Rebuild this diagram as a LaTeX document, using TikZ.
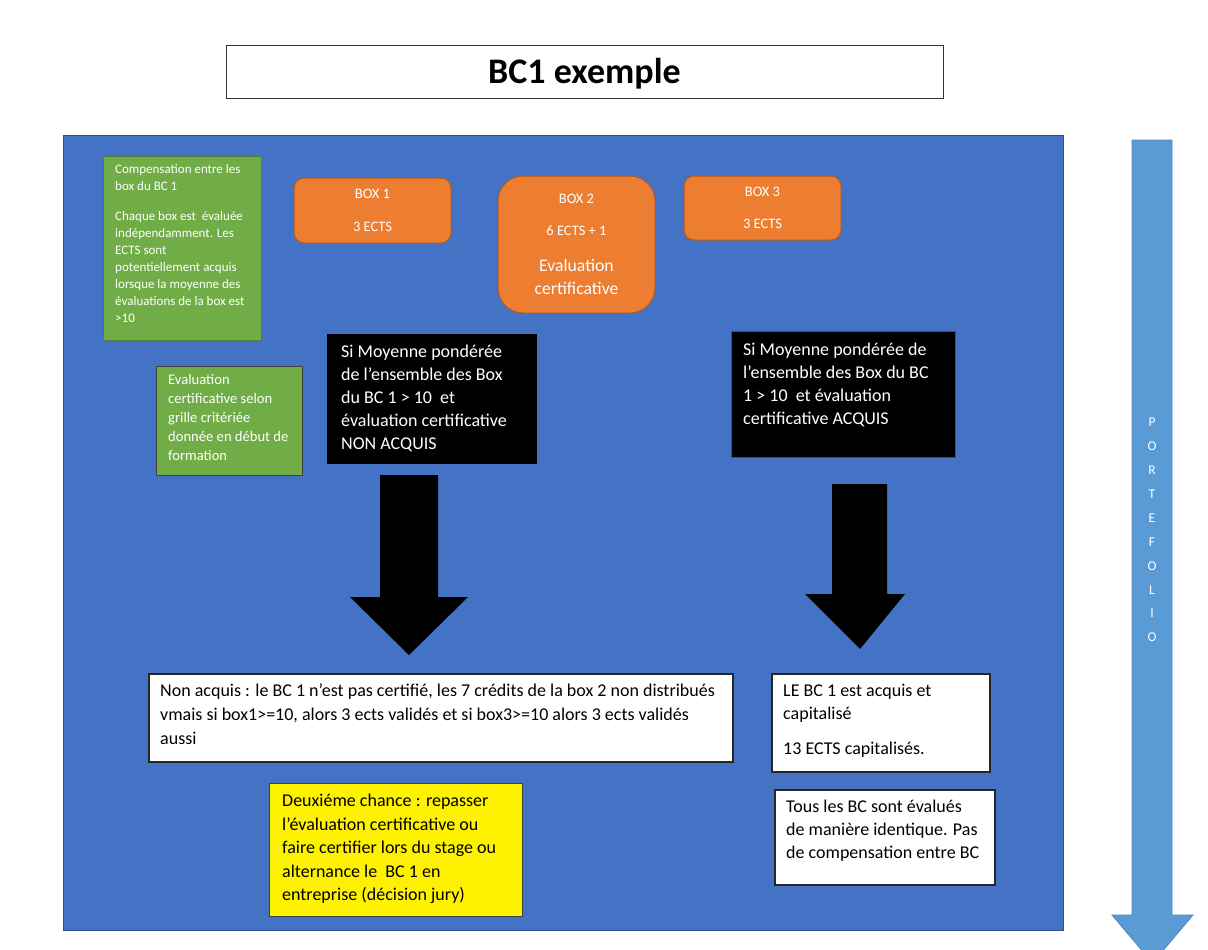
\documentclass[tikz,border=0pt]{standalone}
\usepackage{fontspec}
\setmainfont{Carlito}
\usetikzlibrary{positioning}
\usepackage{xcolor}

\definecolor{boardblue}{HTML}{4472C4}
\definecolor{boardedge}{HTML}{2F528F}
\definecolor{leafgreen}{HTML}{70AD47}
\definecolor{leafedge}{HTML}{507E32}
\definecolor{boxorange}{HTML}{ED7D31}
\definecolor{boxedge}{HTML}{AE5A21}
\definecolor{skyblue}{HTML}{5B9BD5}
\definecolor{skyedge}{HTML}{4A86C0}

\tikzset{
  frame/.style={draw, rectangle, anchor=north west, inner sep=0pt, outer sep=0pt, line width=1pt},
  ectsbox/.style={frame, fill=boxorange, draw=boxedge, text=white, align=center,
    font=\fontsize{14.5}{23}\selectfont},
  boxtxt/.style={anchor=north west, inner sep=0pt, align=left},
  bodyfont/.style={font=\fontsize{18}{23}\selectfont},
}

\begin{document}
\begin{tikzpicture}[x=1pt, y=-1pt]
    \useasboundingbox[fill=white] (0,0) rectangle (1208,950);

    % Define nodes
    \node[frame, draw=black!80, minimum width=717pt, minimum height=52pt] (title) at (226,46) {};
    \node[font=\bfseries\fontsize{36}{40}\selectfont, inner sep=0pt] (titletxt) at ([yshift=-2pt]title.center) {BC1 exemple};
    \node[frame, fill=boardblue, draw=boardedge, minimum width=1000pt, minimum height=795pt] (board) at (63,135) {};

    \node[frame, fill=leafgreen, draw=leafedge, minimum width=158pt, minimum height=184pt] (comp) at (103,156) {};
    \node[boxtxt, text=white, font=\fontsize{13}{17}\selectfont, below right=8.5pt and 12pt of comp.north west] (comptxt)
      {Compensation entre les\\ box du BC 1\\[13pt] Chaque box est\ \ évaluée\\ indépendamment. Les\\ ECTS sont\\
       potentiellement acquis\\ lorsque la moyenne des\\ évaluations de la box est\\ >10};

    \node[frame, fill=leafgreen, draw=black!75, minimum width=146pt, minimum height=109pt] (grille) at (156,366) {};
    \node[boxtxt, text=white, font=\fontsize{14.6}{19}\selectfont, below right=8.5pt and 12pt of grille.north west] (grilletxt)
      {Evaluation\\ certificative selon\\ grille critériée\\ donnée en début de\\ formation};

    \node[ectsbox, rounded corners=10pt, minimum width=157pt, minimum height=65pt] (box1) at (294,178) {BOX 1\\[9.5pt] 3 ECTS};
    \node[ectsbox, rounded corners=25pt, minimum width=157pt, minimum height=137pt] (box2) at (498,176)
      {BOX 2\\[8.5pt] 6 ECTS + 1\\[13pt] {\fontsize{17.7}{23}\selectfont Evaluation}\\ {\fontsize{17.7}{23}\selectfont certificative}};
    \node[ectsbox, rounded corners=10pt, minimum width=157pt, minimum height=64pt] (box3) at (684,176) {BOX 3\\[9.5pt] 3 ECTS};

    \node[frame, fill=black, draw=black, minimum width=209pt, minimum height=129pt] (nonacq) at (327,334) {};
    \node[boxtxt, text=white, bodyfont, below right=11pt and 14pt of nonacq.north west] (nonacqtxt)
      {Si Moyenne pondérée\\ de l’ensemble des Box\\ du BC 1 > 10\ \ et\\ évaluation certificative\\ NON ACQUIS};

    \node[frame, fill=black, draw=boardedge, minimum width=224pt, minimum height=126pt] (acq) at (731,331) {};
    \node[boxtxt, text=white, bodyfont, below right=12pt and 12pt of acq.north west] (acqtxt)
      {Si Moyenne pondérée de\\ l’ensemble des Box du BC\\ 1 > 10\ \ et évaluation\\ certificative ACQUIS};

    \node[frame, fill=white, draw=black!85, line width=1.3pt, minimum width=584pt, minimum height=88pt] (echec) at (149,674) {};
    \node[boxtxt, font=\fontsize{18}{24}\selectfont, below right=10pt and 11pt of echec.north west] (echectxt)
      {Non acquis : le BC 1 n’est pas certifié, les 7 crédits de la box 2 non distribués\\
       vmais si box1>=10, alors 3 ects validés et si box3>=10 alors 3 ects validés\\ aussi};

    \node[frame, fill=white, draw=black!85, line width=1.3pt, minimum width=218pt, minimum height=98pt] (capit) at (772,674) {};
    \node[boxtxt, bodyfont, below right=10pt and 11pt of capit.north west] (capittxt)
      {LE BC 1 est acquis et\\ capitalisé\\[12pt] 13 ECTS capitalisés.};

    \node[frame, fill=yellow, draw=black!75, minimum width=253pt, minimum height=133pt] (chance) at (269,783) {};
    \node[boxtxt, font=\fontsize{18}{23.5}\selectfont, below right=11pt and 13pt of chance.north west] (chancetxt)
      {Deuxiéme chance : repasser\\ l’évaluation certificative ou\\ faire certifier lors du stage ou\\
       alternance le\ \ BC 1 en\\ entreprise (décision jury)};

    \node[frame, fill=white, draw=black!85, line width=1.3pt, minimum width=220pt, minimum height=95pt] (regle) at (775,790) {};
    \node[boxtxt, bodyfont, below right=10pt and 11pt of regle.north west] (regletxt)
      {Tous les BC sont évalués\\ de manière identique. Pas\\ de compensation entre BC};

    % Block arrows
    \fill[black] (380,475) -- (438,475) -- (438,597) -- (468,597) -- (409,655)
      -- (350,597) -- (380,597) -- cycle;
    \fill[black] (832,484) -- (887,484) -- (887,594) -- (905,594) -- (860,649)
      -- (805,594) -- (832,594) -- cycle;

    % Portfolio
    \filldraw[fill=skyblue, draw=skyedge, line width=0.8pt] (1132,140) -- (1172,140) -- (1172,915) -- (1193,915)
      -- (1152.5,963) -- (1112,915) -- (1132,915) -- cycle;
    \node[text=white, align=center, font=\fontsize{13.5}{23.9}\selectfont] (portlabel) at (1152,530)
      {P\\ O\\ R\\ T\\ E\\ F\\ O\\ L\\ I\\ O};

\end{tikzpicture}
\end{document}
